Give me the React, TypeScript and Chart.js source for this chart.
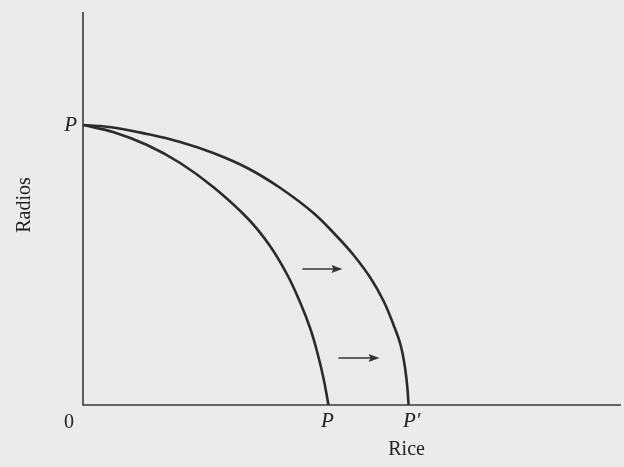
import React, { useEffect, useRef } from "react";
import { Chart, registerables } from "chart.js";

Chart.register(...registerables);

// Production possibilities: Rice (x) vs Radios (y), arbitrary units
const innerRice = [0, 30, 64, 97, 130, 164, 186, 204, 217, 227, 234, 240, 245];
const innerRadios = [280, 273, 260, 242, 218, 187, 160, 130, 102, 76, 52, 27, 0];
const outerRice = [0, 30, 64, 97, 130, 164, 197, 230, 254, 270, 287, 300, 310, 317, 321, 323.5, 325];
const outerRadios = [280, 277.5, 271, 263, 252, 237, 217, 192, 168, 150, 127, 104, 80, 60, 40, 20, 0];

// Shift arrows: [x start, x end, y]
const arrowStartX = [219, 255];
const arrowEndX = [259, 296];
const arrowY = [136, 47];

const xMax = 537;
const yMax = 393;

const xTitle = "Rice";
const yTitle = "Radios";
const interceptLabel = "P";
const shiftedLabel = "P\u2032";
const originLabel = "0";

const INK = "#2b2b2b";
const FONT = "'Liberation Serif', 'DejaVu Serif', serif";

const toPts = (xs: number[], ys: number[]) => xs.map((x, i) => ({ x, y: ys[i] }));

const decorPlugin = {
  id: "decor",
  beforeDraw(chart: any) {
    const { ctx, width, height } = chart;
    ctx.save();
    ctx.fillStyle = "#ebebeb";
    ctx.fillRect(0, 0, width, height);
    ctx.restore();
  },
  afterDraw(chart: any) {
    const { ctx, chartArea } = chart;
    const xs = chart.scales.x;
    const ys = chart.scales.y;
    const ox = xs.getPixelForValue(0);
    const oy = ys.getPixelForValue(0);
    ctx.save();
    // axes
    ctx.strokeStyle = "#3a3a3a";
    ctx.lineWidth = 1.6;
    ctx.beginPath();
    ctx.moveTo(ox, chartArea.top);
    ctx.lineTo(ox, oy);
    ctx.lineTo(chartArea.right, oy);
    ctx.stroke();

    // arrows
    ctx.strokeStyle = "#333";
    ctx.fillStyle = "#333";
    ctx.lineWidth = 1.5;
    for (let i = 0; i < arrowY.length; i++) {
      const x1 = xs.getPixelForValue(arrowStartX[i]);
      const x2 = xs.getPixelForValue(arrowEndX[i]);
      const y = ys.getPixelForValue(arrowY[i]);
      ctx.beginPath();
      ctx.moveTo(x1, y);
      ctx.lineTo(x2 - 8, y);
      ctx.stroke();
      ctx.beginPath();
      ctx.moveTo(x2, y);
      ctx.lineTo(x2 - 11, y - 4);
      ctx.lineTo(x2 - 9, y);
      ctx.lineTo(x2 - 11, y + 4);
      ctx.closePath();
      ctx.fill();
    }

    // labels
    ctx.fillStyle = "#222";
    ctx.font = `italic 21px ${FONT}`;
    ctx.textBaseline = "middle";
    ctx.textAlign = "right";
    ctx.fillText(interceptLabel, ox - 6, ys.getPixelForValue(innerRadios[0]));
    ctx.textAlign = "center";
    ctx.textBaseline = "top";
    ctx.fillText(interceptLabel, xs.getPixelForValue(innerRice[innerRice.length - 1]) - 1, oy + 6);
    ctx.fillText(shiftedLabel, xs.getPixelForValue(outerRice[outerRice.length - 1]) + 3, oy + 6);
    ctx.font = `20px ${FONT}`;
    ctx.fillText(originLabel, ox - 14, oy + 8);
    ctx.fillText(xTitle, xs.getPixelForValue(outerRice[outerRice.length - 1]) - 2, oy + 35);

    ctx.translate(ox - 58, ys.getPixelForValue(200));
    ctx.rotate(-Math.PI / 2);
    ctx.textAlign = "center";
    ctx.textBaseline = "middle";
    ctx.fillText(yTitle, 0, 0);
    ctx.restore();
  },
};

export default function App() {
  const ref = useRef<HTMLCanvasElement | null>(null);
  useEffect(() => {
    if (!ref.current) return;
    const chart = new Chart(ref.current, {
      type: "scatter",
      data: {
        datasets: [
          {
            data: toPts(innerRice, innerRadios),
            showLine: true,
            borderColor: INK,
            borderWidth: 2.6,
            pointRadius: 0,
            tension: 0.4,
          },
          {
            data: toPts(outerRice, outerRadios),
            showLine: true,
            borderColor: INK,
            borderWidth: 2.6,
            pointRadius: 0,
            tension: 0.4,
          },
        ],
      },
      options: {
        responsive: false,
        animation: false,
        layout: { padding: { left: 83, right: 3, top: 12, bottom: 62 } },
        scales: {
          x: { type: "linear", display: false, min: 0, max: xMax },
          y: { type: "linear", display: false, min: 0, max: yMax },
        },
        plugins: { legend: { display: false }, tooltip: { enabled: false } },
      },
      plugins: [decorPlugin],
    });
    return () => chart.destroy();
  }, []);
  return (
    <div style={{ position: "absolute", left: 0, top: 0, width: 624, height: 467 }}>
      <canvas ref={ref} width={624} height={467} />
    </div>
  );
}
